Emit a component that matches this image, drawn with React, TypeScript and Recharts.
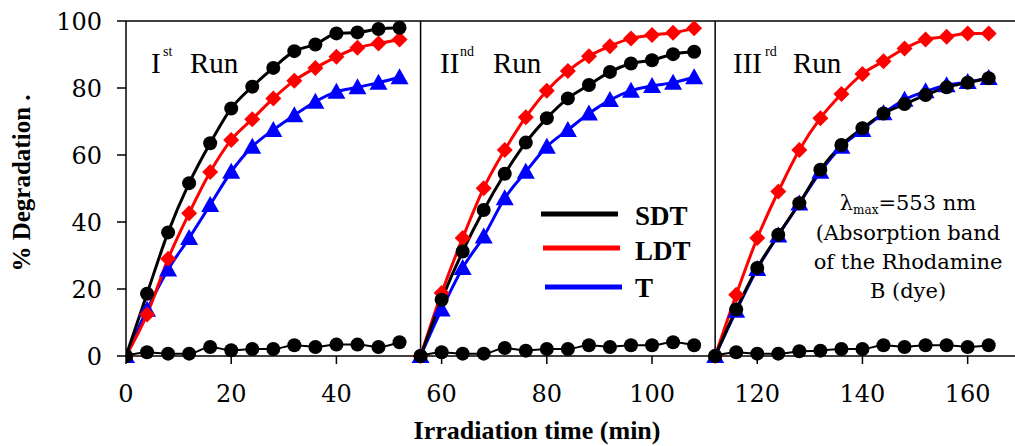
import React from 'react';
import { LineChart, Line, XAxis, YAxis, ReferenceLine } from 'recharts';

// sampling times (min) for each run
const run1Time = [0, 4, 8, 12, 16, 20, 24, 28, 32, 36, 40, 44, 48, 52];
const run2Time = [56, 60, 64, 68, 72, 76, 80, 84, 88, 92, 96, 100, 104, 108];
const run3Time = [112, 116, 120, 124, 128, 132, 136, 140, 144, 148, 152, 156, 160, 164];

// % degradation, Ist run
const sdt1 = [0, 18.6, 36.9, 51.6, 63.5, 73.9, 80.4, 86, 91, 93, 96.3, 96.6, 97.6, 98];
const ldt1 = [0, 12.4, 29, 42.6, 54.9, 64.5, 70.7, 76.9, 82.2, 86, 89.3, 92, 93.3, 94.5];
const t1 = [0, 13.8, 25.8, 35.2, 45.1, 55, 62.5, 67.5, 71.9, 75.9, 78.9, 80.2, 81.6, 83.2];
const dark1 = [0, 1.1, 0.7, 0.7, 2.7, 1.7, 2.1, 2.1, 3.2, 2.7, 3.4, 3.4, 2.7, 4.1];

// IInd run
const sdt2 = [0, 16.8, 31.2, 43.6, 54.4, 63.7, 71, 76.9, 80.9, 84.8, 87.3, 88.3, 90.1, 90.8];
const ldt2 = [0, 18.8, 35.2, 50.1, 61.5, 71.3, 79.2, 85.1, 89.5, 92.5, 94.8, 95.8, 96.5, 97.8];
const t2 = [0, 13.9, 26.3, 35.7, 47.1, 55, 62.5, 67.5, 72.4, 76.4, 79.2, 80.6, 81.6, 83.2];
const dark2 = [0, 1.1, 0.7, 0.7, 2.4, 1.6, 2.1, 2.1, 3.2, 2.7, 3.2, 3.2, 4.1, 3.2];

// IIIrd run
const sdt3 = [0, 13.9, 26.3, 36.2, 45.6, 55.6, 63, 68, 72.4, 75.2, 77.9, 80.2, 81.6, 82.9];
const ldt3 = [0, 18.3, 35.2, 49.1, 61.5, 71, 78.2, 84.2, 88, 91.8, 94.5, 95.3, 96.3, 96.3];
const t3 = [0, 13.5, 26, 36, 45.5, 55, 62.5, 67.5, 72.5, 76.5, 79, 80.8, 81.8, 83];
const dark3 = [0, 1.1, 0.7, 0.7, 1.4, 1.6, 2.1, 2.1, 3.2, 2.7, 3.2, 3.2, 2.7, 3.2];

const xTicks = [0, 20, 40, 60, 80, 100, 120, 140, 160];
const yTicks = [0, 20, 40, 60, 80, 100];

const runs = [
  { id: 1, time: run1Time, sdt: sdt1, ldt: ldt1, t: t1, dark: dark1 },
  { id: 2, time: run2Time, sdt: sdt2, ldt: ldt2, t: t2, dark: dark2 },
  { id: 3, time: run3Time, sdt: sdt3, ldt: ldt3, t: t3, dark: dark3 },
];

const rows: any[] = [];
runs.forEach((r) => {
  r.time.forEach((time, i) => {
    rows.push({
      time,
      ['sdt' + r.id]: r.sdt[i],
      ['ldt' + r.id]: r.ldt[i],
      ['t' + r.id]: r.t[i],
      ['dark' + r.id]: r.dark[i],
    });
  });
});

const SERIF = "'Liberation Serif', 'Times New Roman', serif";
const SERIF2 = "'DejaVu Serif', serif";

const circleDot = (props: any) => {
  const { cx, cy, index, dataKey } = props;
  if (cx == null || cy == null || props.value == null) return <g key={`${dataKey}-${index}`} />;
  return <circle key={`${dataKey}-${index}`} cx={cx} cy={cy} r={7} fill="#000" />;
};

const diamondDot = (props: any) => {
  const { cx, cy, index, dataKey } = props;
  if (cx == null || cy == null || props.value == null) return <g key={`${dataKey}-${index}`} />;
  return (
    <polygon
      key={`${dataKey}-${index}`}
      points={`${cx},${cy - 8} ${cx + 8},${cy} ${cx},${cy + 8} ${cx - 8},${cy}`}
      fill="#ff0000"
    />
  );
};

const triangleDot = (props: any) => {
  const { cx, cy, index, dataKey } = props;
  if (cx == null || cy == null || props.value == null) return <g key={`${dataKey}-${index}`} />;
  return (
    <polygon
      key={`${dataKey}-${index}`}
      points={`${cx},${cy - 9} ${cx + 9},${cy + 7} ${cx - 9},${cy + 7}`}
      fill="#0000ff"
    />
  );
};

export default function App() {
  return (
    <div style={{ position: 'absolute', left: 0, top: 0, width: 1015, height: 446, background: '#fff' }}>
      <LineChart width={1015} height={446} data={rows} margin={{ top: 21, right: 0, left: 0, bottom: 0 }}>
        <XAxis
          dataKey="time"
          type="number"
          domain={[0, 169]}
          ticks={xTicks}
          allowDataOverflow
          height={90}
          tickSize={8}
          tickMargin={21}
          stroke="#000"
          strokeWidth={1.5}
          tick={{ fill: '#000', fontSize: 24, fontFamily: SERIF2 }}
        />
        <YAxis
          type="number"
          domain={[0, 100]}
          ticks={yTicks}
          width={126}
          tickSize={9}
          tickMargin={15}
          stroke="#000"
          strokeWidth={1.5}
          tick={{ fill: '#000', fontSize: 24, fontFamily: SERIF2 }}
        />
        <ReferenceLine y={100} stroke="#000" strokeWidth={1.5} />
        <ReferenceLine x={56} stroke="#000" strokeWidth={1.5} />
        <ReferenceLine x={112} stroke="#000" strokeWidth={1.5} />
        {runs.map((r) => [
          <Line key={'t' + r.id} dataKey={'t' + r.id} type="monotone" stroke="#0000ff" strokeWidth={3}
            dot={triangleDot} activeDot={false} isAnimationActive={false} />,
          <Line key={'ldt' + r.id} dataKey={'ldt' + r.id} type="monotone" stroke="#ff0000" strokeWidth={3}
            dot={diamondDot} activeDot={false} isAnimationActive={false} />,
          <Line key={'sdt' + r.id} dataKey={'sdt' + r.id} type="monotone" stroke="#000" strokeWidth={3}
            dot={circleDot} activeDot={false} isAnimationActive={false} />,
          <Line key={'dark' + r.id} dataKey={'dark' + r.id} type="monotone" stroke="#000" strokeWidth={2}
            dot={circleDot} activeDot={false} isAnimationActive={false} />,
        ])}
      </LineChart>
      <svg width={1015} height={446} style={{ position: 'absolute', left: 0, top: 0, pointerEvents: 'none' }}>
        <g fill="#000" fontFamily={SERIF}>
          <text x={30} y={183} transform="rotate(-90 30 183)" textAnchor="middle" fontSize={25} fontWeight="bold">
            % Degradation .
          </text>
          <text x={537} y={439} textAnchor="middle" fontSize={26} fontWeight="bold">
            Irradiation time (min)
          </text>

          <text x={151} y={73} fontSize={29}>I</text>
          <text x={163} y={56} fontSize={14}>st</text>
          <text x={190} y={73} fontSize={29}>Run</text>

          <text x={440} y={73} fontSize={29}>II</text>
          <text x={460} y={56} fontSize={14}>nd</text>
          <text x={493} y={73} fontSize={29}>Run</text>

          <text x={733} y={73} fontSize={29}>III</text>
          <text x={765} y={56} fontSize={14}>rd</text>
          <text x={793} y={73} fontSize={29}>Run</text>

          <line x1={541} y1={214} x2={618} y2={214} stroke="#000" strokeWidth={5} />
          <line x1={543} y1={248} x2={620} y2={248} stroke="#ff0000" strokeWidth={5} />
          <line x1={545} y1={287} x2={622} y2={287} stroke="#0000ff" strokeWidth={5} />
          <text x={635} y={225} fontSize={27} fontWeight="bold">SDT</text>
          <text x={635} y={260} fontSize={27} fontWeight="bold">LDT</text>
          <text x={635} y={297} fontSize={27} fontWeight="bold">T</text>
        </g>
        <g fill="#000" fontFamily={SERIF2}>
          <text x={908} y={210} textAnchor="middle" fontSize={21}>
            λ<tspan fontSize={12} dy={4}>max</tspan><tspan dy={-4}>=553 nm</tspan>
          </text>
          <text x={908} y={240} textAnchor="middle" fontSize={21}>(Absorption band</text>
          <text x={908} y={269} textAnchor="middle" fontSize={21}>of the Rhodamine</text>
          <text x={908} y={298} textAnchor="middle" fontSize={21}>B (dye)</text>
        </g>
      </svg>
    </div>
  );
}
